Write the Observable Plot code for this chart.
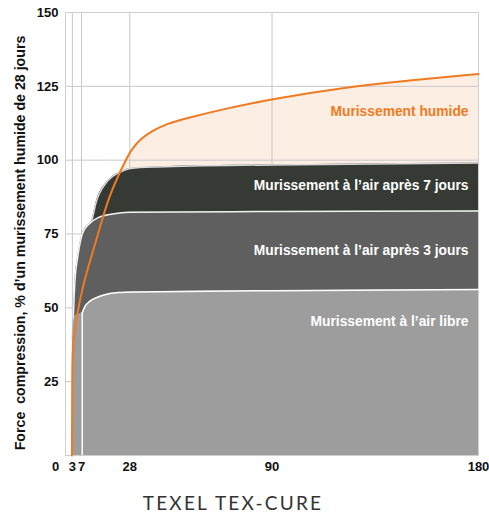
<!DOCTYPE html>
<html><head><meta charset="utf-8">
<script src="https://cdn.jsdelivr.net/npm/d3@7"></script>
<script src="https://cdn.jsdelivr.net/npm/@observablehq/plot@0.6"></script>
<style>
body{margin:0;background:#fff;}
#cap{font-family:Lato,"Open Sans",sans-serif;font-size:19px;letter-spacing:2.2px;color:#333;text-align:center;width:466px;margin-top:15px;line-height:20px;}
</style></head><body><div id="chart"></div><div id="cap">TEXEL TEX-CURE</div>
<script>
const humidDays   = [2.8, 2.95, 3.05, 3.8, 5.2, 7.4, 9, 12.5, 16, 19, 22, 26, 29, 33, 37, 44, 51.5, 70, 90, 120, 150, 180];
const humidValues = [0, 20, 36, 41, 48.5, 56.5, 61.5, 70.5, 80, 87.5, 93, 99.7, 104, 107.3, 109.6, 112.3, 114, 117.5, 120.7, 124.5, 127, 129.2];
const air7Days    = [3, 3.5, 4.5, 6, 8, 10, 11.8, 13.2, 17.4, 20.5, 24, 28.3, 40, 90, 180];
const air7Values  = [0, 30, 55, 68, 75, 77, 80.5, 85.3, 92, 94.5, 96, 97.2, 97.7, 98.4, 99];
const air3Days    = [3, 3.05, 3.5, 4.2, 5.2, 6, 7.4, 10.3, 14.7, 20.5, 27.7, 90, 180];
const air3Values  = [0, 38.4, 48.5, 60, 66.5, 70.5, 75.2, 78.4, 80.7, 81.8, 82.4, 82.6, 82.8];
const airDays     = [3, 3.05, 3.4, 4.5, 7.3, 8.5, 10.3, 13, 16, 23, 30, 90, 180];
const airValues   = [0, 37, 45, 47.5, 48.3, 50.5, 52, 53.3, 54.2, 55.2, 55.4, 55.8, 56.2];
const xTicks = [0, 3, 7, 28, 90, 180];
const yTicks = [25, 50, 75, 100, 125, 150];
const yLabel = "Force  compression, % d’un murissement humide de 28 jours";
const labels = ["Murissement humide", "Murissement à l’air après 7 jours", "Murissement à l’air après 3 jours", "Murissement à l’air libre"];
const labelValues = [116.3, 91.4, 69.4, 45.4];
const labelColors = ["#f07a22", "white", "white", "white"];

const zip = (xs, ys) => xs.map((d, i) => ({day: d, v: ys[i]}));
const humid = zip(humidDays, humidValues);
const air7 = zip(air7Days, air7Values);
const air3 = zip(air3Days, air3Values);
const air = zip(airDays, airValues);
const airEdgeDay = airDays[4];
const labelData = labels.map((t, i) => ({t, v: labelValues[i], c: labelColors[i]}));
const font = "'Liberation Sans', Arial, sans-serif";
const curve = "monotone-x";

const chart = Plot.plot({
  width: 489, height: 478,
  marginLeft: 65, marginRight: 11, marginTop: 12, marginBottom: 23,
  style: {fontFamily: font, fontSize: "13px", color: "#111"},
  x: {domain: [0, 180]},
  y: {domain: [0, 150]},
  marks: [
    Plot.areaY(humid, {x: "day", y: "v", fill: "#fdeee4", curve: "basis"}),
    Plot.gridX(xTicks.filter(d => d > 0 && d < 180), {stroke: "#c8c8c8", strokeOpacity: 1}),
    Plot.gridY(yTicks.filter(d => d < 150), {stroke: "#c8c8c8", strokeOpacity: 1}),
    Plot.frame({stroke: "#cfcfcf"}),
    Plot.areaY(air7, {x: "day", y: "v", fill: "#353a35", curve}),
    Plot.lineY(air7, {x: "day", y: "v", stroke: "#d8d8d8", strokeWidth: 1.5, curve}),
    Plot.areaY(air3, {x: "day", y: "v", fill: "#5f5f5f", curve}),
    Plot.lineY(air3, {x: "day", y: "v", stroke: "#f2f2f2", strokeWidth: 1.5, curve}),
    Plot.areaY(air, {x: "day", y: "v", fill: "#9d9d9d", curve}),
    Plot.lineY(air.filter(d => d.day >= airEdgeDay), {x: "day", y: "v", stroke: "white", strokeWidth: 1.5, curve}),
    Plot.ruleX([airEdgeDay], {y1: 0, y2: airValues[4], stroke: "white", strokeWidth: 1.5}),
    Plot.lineY(humid, {x: "day", y: "v", stroke: "#f07a22", strokeWidth: 2, curve: "basis"}),
    Plot.text(labelData, {x: 180, y: "v", text: "t", fill: "c", dx: -10, textAnchor: "end", fontWeight: "bold", fontSize: 13.8}),
    Plot.axisY(yTicks, {tickSize: 0, tickPadding: 7, fontWeight: "bold", fontSize: 13, label: null}),
    Plot.text([yLabel], {frameAnchor: "left", textAnchor: "middle", rotate: -90, dx: -45, dy: 9, fontWeight: "bold", fontSize: 14.2, fill: "#111"}),
    Plot.axisX(xTicks.filter(d => d > 0), {tickSize: 0, tickPadding: 6, fontWeight: "bold", fontSize: 13, label: null}),
    Plot.axisX(xTicks.filter(d => d === 0), {tickSize: 0, tickPadding: 6, fontWeight: "bold", fontSize: 13, label: null, dx: -10})
  ]
});
document.getElementById("chart").appendChild(chart);
</script></body></html>
